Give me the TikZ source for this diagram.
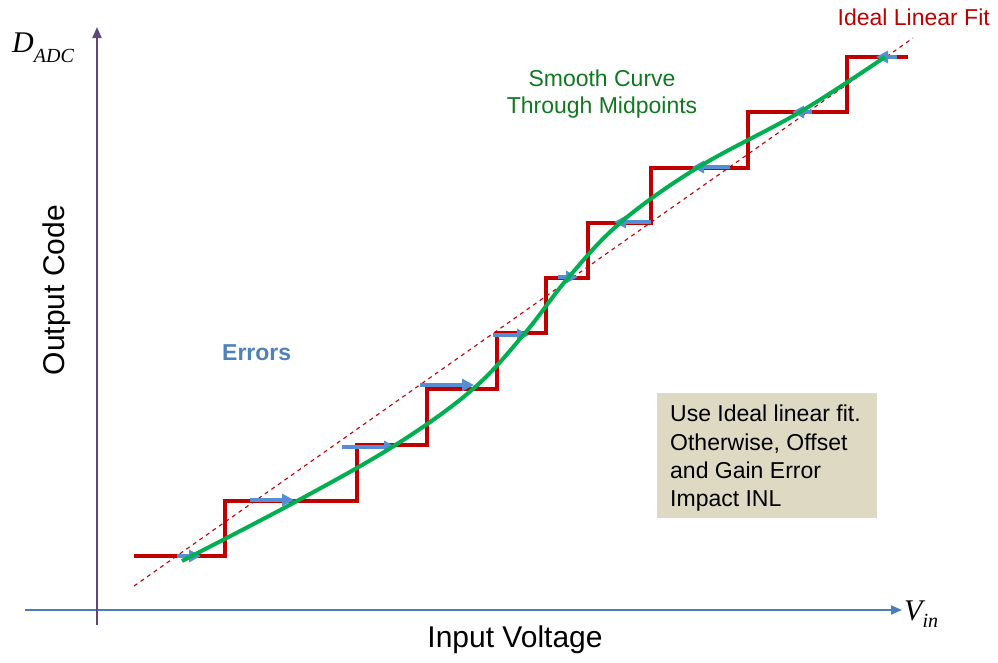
\documentclass[tikz,border=0pt]{standalone}
\usepackage{fontspec}
\setmainfont{Liberation Sans}
\newfontfamily\tnr{Liberation Serif}
\usetikzlibrary{arrows.meta}
\definecolor{stepred}{RGB}{192,0,0}
\definecolor{curvegreen}{RGB}{0,176,80}
\definecolor{errblue}{RGB}{85,142,213}
\definecolor{xaxisc}{RGB}{74,126,187}
\definecolor{yaxisc}{RGB}{96,73,122}
\definecolor{textgreen}{RGB}{16,120,32}
\definecolor{errtext}{RGB}{79,129,189}
\definecolor{notefill}{RGB}{221,217,195}
\tikzset{
  stair/.style={draw=stepred, line width=3.5pt, line join=miter},
  fitline/.style={draw=stepred, line width=1.1pt, dash pattern=on 4pt off 4pt},
  smoothc/.style={draw=curvegreen, line width=4pt},
  errarrow/.style={draw=errblue, line width=4pt, -{Triangle[length=12pt,width=12pt]}},
  axisx/.style={draw=xaxisc, line width=2pt, -{Triangle[length=11pt,width=9pt]}},
  axisy/.style={draw=yaxisc, line width=2pt, -{Triangle[length=11pt,width=9pt]}},
  lbl/.style={inner sep=0pt},
}
\begin{document}
\begin{tikzpicture}[x=1pt,y=-1pt]
\useasboundingbox (0,0) rectangle (998,662);
% axes
\coordinate (xs) at (25,610);
\coordinate (xe) at (902,610);
\coordinate (ys) at (97,625);
\coordinate (ye) at (97,27);
\draw[axisx] (xs) -- (xe);
\draw[axisy] (ys) -- (ye);
% ideal linear fit (dashed)
\coordinate (fa) at (134,586);
\coordinate (fb) at (913,38);
\draw[fitline] (fa) -- (fb);
% staircase
\draw[stair] (134,556) -- (225,556) -- (225,501) -- (357,501) -- (357,445) -- (427,445)
  -- (427,389) -- (497,389) -- (497,333) -- (546,333) -- (546,278) -- (588,278)
  -- (588,223) -- (651,223) -- (651,168) -- (748,168) -- (748,112) -- (847,112)
  -- (847,57) -- (908,57);
% error arrows
\draw[errarrow] (177,556) -- (201,556);
\draw[errarrow] (250,500) -- (294,500);
\draw[errarrow] (342,447) -- (396,447);
\draw[errarrow] (420,385) -- (474,385);
\draw[errarrow] (493,335) -- (529,335);
\draw[errarrow] (558,277) -- (578,277);
\draw[errarrow] (651,222) -- (614,222);
\draw[errarrow] (730,167) -- (692,167);
\draw[errarrow] (812,112) -- (792,112);
\draw[errarrow] (897,57) -- (876,57);
% smooth curve through midpoints
\draw[smoothc] plot[smooth, tension=0.6] coordinates {(182,561) (297,501) (397,444) (473,389) (525,333) (568,278) (620,223) (697,168) (800,112) (885,57)};
% labels
\node[lbl, anchor=base west] (dadc) at (12,52) {{\tnr\itshape\fontsize{30}{30}\selectfont D}\raisebox{-10pt}{\tnr\itshape\fontsize{20}{20}\selectfont ADC}};
\node[lbl, anchor=base west] (vin) at (904,620) {{\tnr\itshape\fontsize{30}{30}\selectfont V}\raisebox{-7pt}{\tnr\itshape\fontsize{20}{20}\selectfont in}};
\node[lbl, rotate=90, font=\fontsize{30}{30}\selectfont] (ycap) at (57,290) {Output Code};
\node[lbl, font=\fontsize{30}{30}\selectfont] (xcap) at (515,640) {Input Voltage};
\node[lbl, anchor=base east, text=stepred, font=\fontsize{23}{23}\selectfont] (fitlbl) at (990,25) {Ideal Linear Fit};
\node[lbl, align=center, text=textgreen, anchor=north, font=\fontsize{23}{27}\selectfont] (smlbl) at (602,70) {Smooth Curve\\Through Midpoints};
\node[lbl, text=errtext, anchor=base west, font=\fontsize{23}{23}\selectfont\bfseries] (errlbl) at (222,360) {Errors};
\node[fill=notefill, minimum width=220pt, minimum height=125pt, anchor=north west, inner sep=0pt] (note) at (657,393) {};
\node[lbl, align=left, anchor=north west, font=\fontsize{23}{28.3}\selectfont] (notetxt) at (670,405) {Use Ideal linear fit.\\Otherwise, Offset\\and Gain Error\\Impact INL};
\end{tikzpicture}
\end{document}
